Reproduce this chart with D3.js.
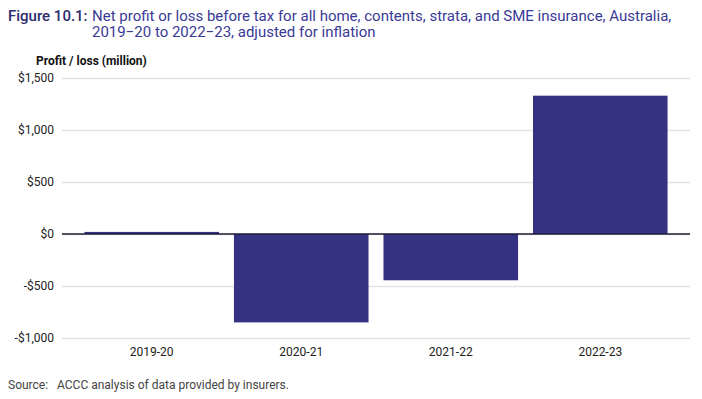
<html>
<head>
	<meta charset="utf-8">
	<title>Figure 10.1</title>
	<script src="https://cdn.jsdelivr.net/npm/d3@7"></script>
</head>
<style>
	body { margin: 0; background: #fff; }
	svg text { font-family: Roboto, "Noto Sans", sans-serif; }
	.grid line { stroke: #e3e3e3; stroke-width: 1.5; }
	.grid path { display: none; }
	.ylab text { font-size: 12px; fill: #222; }
	.xlab text { font-size: 12px; fill: #222; }
</style>
<body>
<script>
	var categories = ["2019-20", "2020-21", "2021-22", "2022-23"];
	var values = [20, -850, -445, 1330];
	var yTicks = [-1000, -500, 0, 500, 1000, 1500];

	var width = 702, height = 399;
	var plot = {left: 62, right: 690, top: 78, bottom: 338};

	var svg = d3.select("body").append("svg")
		.attr("width", width)
		.attr("height", height);

	// title
	var t1 = svg.append("text").attr("x", 8).attr("y", 21).attr("font-size", 15);
	t1.append("tspan").attr("fill", "#2c2c6e").attr("font-weight", 500).text("Figure 10.1:");
	t1.append("tspan").attr("x", 92).attr("fill", "#3a3a96")
		.text("Net profit or loss before tax for all home, contents, strata, and SME insurance, Australia,");
	svg.append("text").attr("x", 92).attr("y", 37).attr("font-size", 15).attr("fill", "#3a3a96")
		.text("2019\u221220 to 2022\u221223, adjusted for inflation");

	svg.append("text").attr("x", 36).attr("y", 65)
		.attr("font-size", 12).attr("font-weight", 700).attr("fill", "#111")
		.text("Profit / loss (million)");

	var y = d3.scaleLinear().domain([-1000, 1500]).range([plot.bottom, plot.top]);
	var x = d3.scaleBand().domain(categories).range([plot.left, plot.right])
		.paddingInner(0.1).paddingOuter(0.15);

	// gridlines
	svg.append("g").attr("class", "grid")
		.attr("transform", "translate(" + plot.left + ",0)")
		.call(d3.axisLeft(y).tickValues(yTicks).tickSize(-(plot.right - plot.left)).tickFormat(""));

	// y labels
	var fmt = function(d){ return (d < 0 ? "-$" : "$") + d3.format(",")(Math.abs(d)); };
	var yl = svg.append("g").attr("class", "ylab")
		.attr("transform", "translate(" + plot.left + ",0)")
		.call(d3.axisLeft(y).tickValues(yTicks).tickSize(0).tickPadding(8).tickFormat(fmt));
	yl.select(".domain").remove();
	yl.selectAll("text").attr("font-family", null);

	// bars
	svg.selectAll(".bar").data(values).enter().append("rect")
		.attr("class", "bar")
		.attr("x", function(d, i){ return x(categories[i]); })
		.attr("width", x.bandwidth())
		.attr("y", function(d){ return y(Math.max(0, d)); })
		.attr("height", function(d){ return Math.abs(y(d) - y(0)); })
		.attr("fill", "#353282");

	// zero line
	svg.append("line")
		.attr("x1", plot.left).attr("x2", plot.right)
		.attr("y1", y(0)).attr("y2", y(0))
		.attr("stroke", "#1e1e3a").attr("stroke-width", 1.5);

	// x labels
	var xl = svg.append("g").attr("class", "xlab")
		.attr("transform", "translate(0," + plot.bottom + ")")
		.call(d3.axisBottom(x).tickSize(0).tickPadding(9));
	xl.select(".domain").remove();
	xl.selectAll("text").attr("font-family", null);

	svg.append("text").attr("x", 8).attr("y", 389)
		.attr("font-size", 12).attr("fill", "#444")
		.text("Source:\u00a0\u00a0\u00a0ACCC analysis of data provided by insurers.");
</script>
</body>
</html>
